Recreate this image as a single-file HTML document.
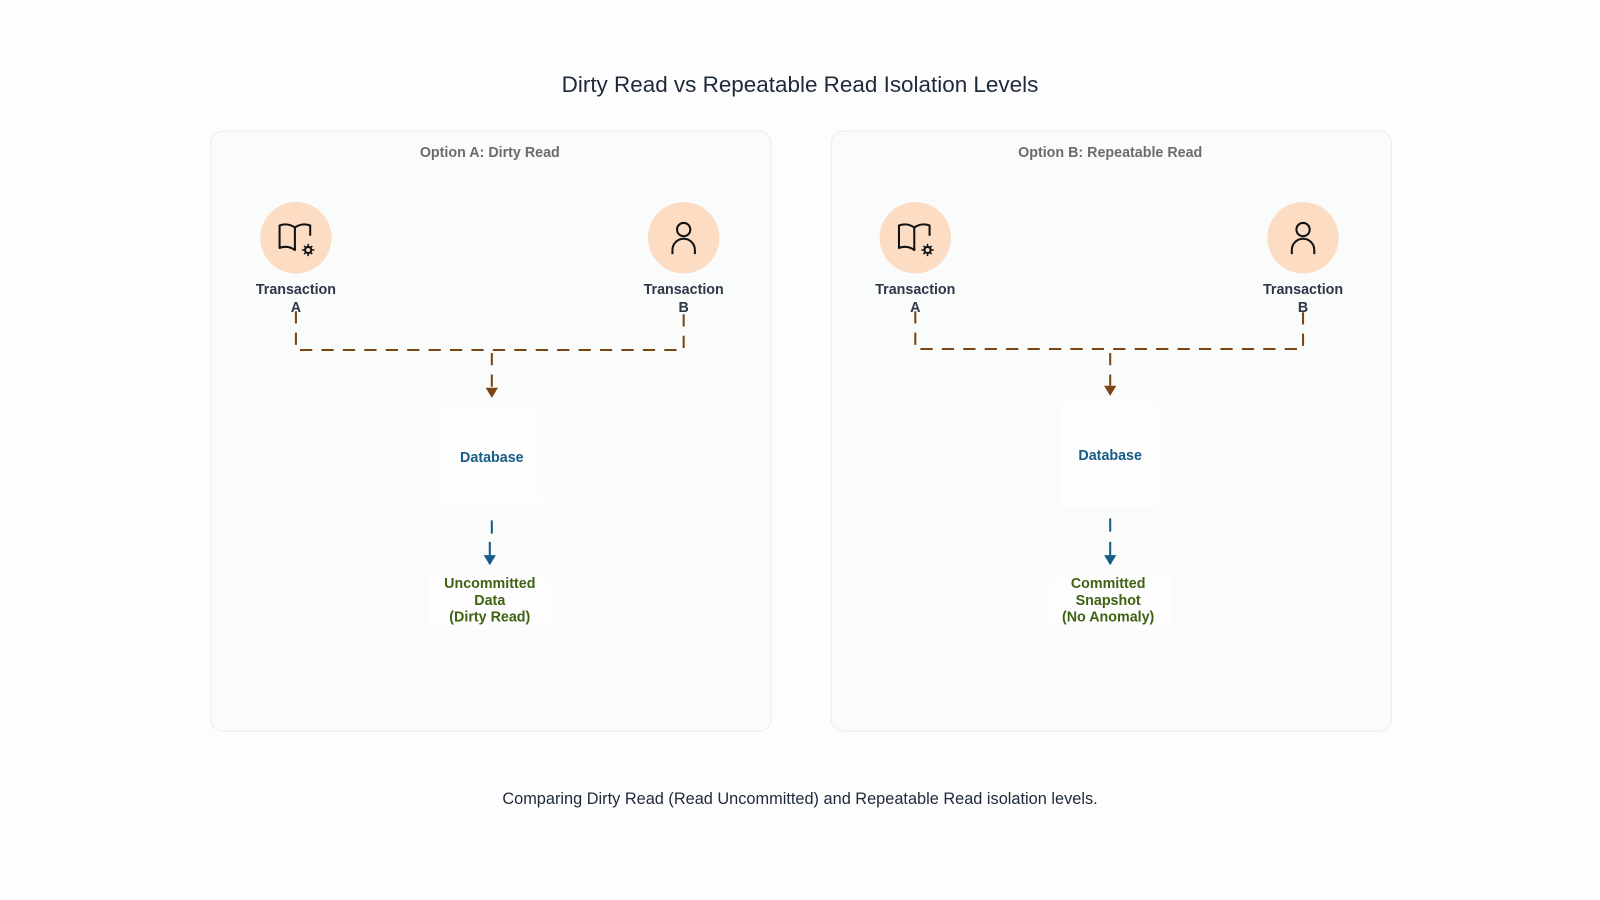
<!DOCTYPE html>
<html><head><meta charset="utf-8"><style>
html,body{margin:0;width:1600px;height:900px;background:#fdfdfd;overflow:hidden}
#w{position:absolute;left:0;top:0;width:1568px;height:882px;transform:scale(1.0204);transform-origin:0 0;font-family:"Liberation Sans",sans-serif}
.t{position:absolute;text-align:center;white-space:nowrap}
.panel{position:absolute;top:128px;width:548px;height:587px;border:1px solid #ececec;border-radius:12px;background:#fafbfb}
</style></head><body><div id="w">
<div class="t" style="left:0;width:1568px;top:70px;font-size:22px;color:#1e293b">Dirty Read vs Repeatable Read Isolation Levels</div>
<div class="panel" style="left:206px"></div>
<div class="panel" style="left:814px"></div>
<div class="t" style="left:206px;width:548px;top:141px;font-size:14px;font-weight:bold;color:#6f6a66">Option A: Dirty Read</div>
<div class="t" style="left:814px;width:548px;top:141px;font-size:14px;font-weight:bold;color:#6f6a66">Option B: Repeatable Read</div>
<svg width="1568" height="882" style="position:absolute;left:0;top:0">
<defs>
<g id="book" fill="none" stroke="#111" stroke-width="2" stroke-linejoin="round">
<path d="M-16,-12 v22 q8,-3 15,2 v-22 q-7,-5 -15,-2z"/><path d="M-1,-10 q7,-5 15,-2 v10"/><path d="M-1,12 v-2"/>
<circle cx="12" cy="12" r="3"/><path d="M12,6v3M12,15v3M6,12h3M15,12h3M8,8l2,2M14,14l2,2M16,8l-2,2M8,16l2,-2" stroke-width="1.5"/>
</g>
<g id="user" fill="none" stroke="#111" stroke-width="2"><circle cx="0" cy="-8" r="6.5"/><path d="M-11,16 v-4 a11,11 0 0 1 22,0 v4"/></g>
</defs>
<g fill="#fddcc4"><circle cx="290" cy="233" r="35"/><circle cx="670" cy="233" r="35"/><circle cx="897" cy="233" r="35"/><circle cx="1277" cy="233" r="35"/></g>
<use href="#book" x="290" y="233"/><use href="#book" x="897" y="233"/>
<use href="#user" x="670" y="233"/><use href="#user" x="1277" y="233"/>
<g fill="none" stroke="#7a4413" stroke-width="2" stroke-dasharray="12,9">
<path d="M290,305 V343 H670 V305"/><path d="M482,346 V380"/>
<path d="M897,305 V342 H1277 V305"/><path d="M1088,346 V378"/>
</g>
<g fill="#7a4413"><path d="M476,380 h12 l-6,10z"/><path d="M1082,378 h12 l-6,10z"/></g>
<rect x="432" y="395" width="100" height="105" rx="10" fill="#fdfdfd"/>
<rect x="1038" y="393" width="100" height="105" rx="10" fill="#fdfdfd"/>
<rect x="420" y="562" width="120" height="56" rx="8" fill="#fdfdfd"/>
<rect x="1028" y="562" width="120" height="56" rx="8" fill="#fdfdfd"/>
<g stroke="#175c84" stroke-width="2"><path d="M482,510V523M480,531V545"/><path d="M1088,508V521M1088,531V545"/></g>
<g fill="#175c84"><path d="M474,544 h12 l-6,10z"/><path d="M1082,544 h12 l-6,10z"/></g>
</svg>
<div class="t" style="left:190px;width:200px;top:274px;font-size:14px;font-weight:bold;color:#2d3748;line-height:18px">Transaction<br>A</div>
<div class="t" style="left:570px;width:200px;top:274px;font-size:14px;font-weight:bold;color:#2d3748;line-height:18px">Transaction<br>B</div>
<div class="t" style="left:797px;width:200px;top:274px;font-size:14px;font-weight:bold;color:#2d3748;line-height:18px">Transaction<br>A</div>
<div class="t" style="left:1177px;width:200px;top:274px;font-size:14px;font-weight:bold;color:#2d3748;line-height:18px">Transaction<br>B</div>
<div class="t" style="left:382px;width:200px;top:440px;font-size:14px;font-weight:bold;color:#175c84">Database</div>
<div class="t" style="left:988px;width:200px;top:438px;font-size:14px;font-weight:bold;color:#175c84">Database</div>
<div class="t" style="left:380px;width:200px;top:563px;font-size:14px;font-weight:bold;color:#3f6212;line-height:16.5px">Uncommitted<br>Data<br>(Dirty Read)</div>
<div class="t" style="left:986px;width:200px;top:563px;font-size:14px;font-weight:bold;color:#3f6212;line-height:16.5px">Committed<br>Snapshot<br>(No Anomaly)</div>
<div class="t" style="left:0;width:1568px;top:775px;font-size:16px;color:#1e293b">Comparing Dirty Read (Read Uncommitted) and Repeatable Read isolation levels.</div>
</div></body></html>
